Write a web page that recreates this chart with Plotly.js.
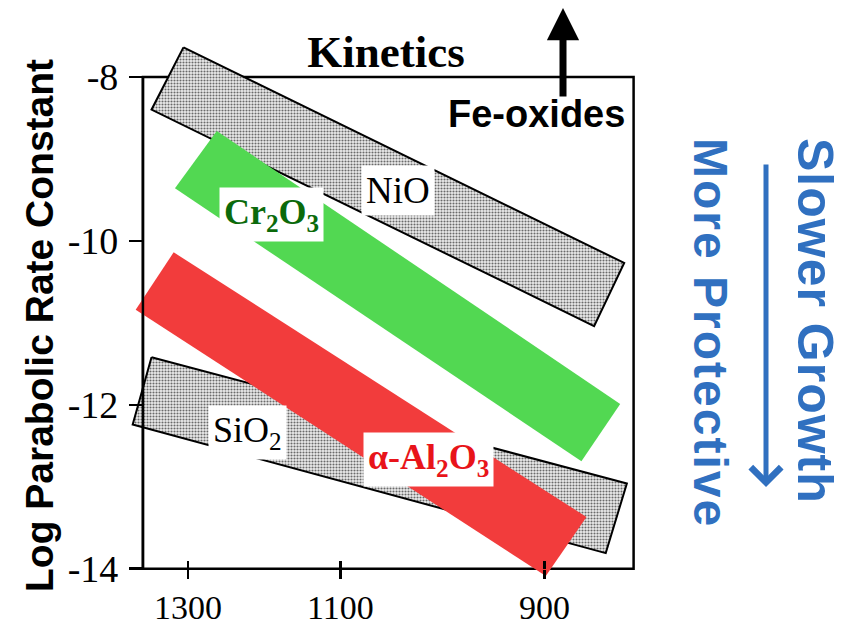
<!DOCTYPE html>
<html><head><meta charset="utf-8">
<script src="https://cdn.plot.ly/plotly-3.0.1.min.js"></script>
<style>
html,body{margin:0;padding:0;background:#fff}
text.annotation-text[data-unformatted*="More Protective"]{letter-spacing:2px}
text.annotation-text[data-unformatted*="Slower Growth"]{letter-spacing:1px}
</style>
</head><body><div id="chart" style="width:851px;height:628px"></div>
<script>
// ---- data ----
const tempTicks = [1300, 1100, 900];               // temperature, °C (axis is 1/T)
const logkTicks = [-8, -10, -12, -14];
const logkTickText = ['-8', '-10', '-12', '-14'];

// band corners: temperature (°C) and log parabolic rate constant
const nioT = [1307, 837, 860, 1357];
const nioLogk = [-7.64, -10.27, -11.04, -8.40];
const cr2o3T = [1258, 840, 870, 1320];
const cr2o3Logk = [-8.66, -11.99, -12.69, -9.36];
const al2o3T = [1322, 866, 899, 1383];
const al2o3Logk = [-10.14, -13.37, -14.09, -10.84];
const sio2T = [1357, 835, 851, 1388];
const sio2Logk = [-11.42, -12.96, -13.81, -12.24];

// label anchors (°C, log k)
const labelNames = ['NiO', '<b>Cr<sub>2</sub>O<sub>3</sub></b>', 'SiO<sub>2</sub>', '<b>α-Al<sub>2</sub>O<sub>3</sub></b>'];
const labelT = [1037, 1184, 1215, 1006];
const labelLogk = [-9.39, -9.68, -12.34, -12.67];

// ---- helpers ----
const inv = T => 1e4 / (T + 273.15);
function band(T, k, style) {
  const x = T.map(inv); x.push(x[0]);
  const y = k.slice(); y.push(k[0]);
  return Object.assign({type: 'scatter', mode: 'lines', x: x, y: y, fill: 'toself',
    hoverinfo: 'skip', showlegend: false}, style);
}
const grayStyle = {line: {color: '#000', width: 2}, fillcolor: '#d2d2d2',
  fillpattern: {shape: '.', bgcolor: '#ececec', fgcolor: '#6a6a6a', size: 3, solidity: 0.38}};

const traces = [
  band(nioT, nioLogk, grayStyle),
  band(sio2T, sio2Logk, grayStyle),
  band(cr2o3T, cr2o3Logk, {line: {width: 0, color: 'rgba(0,0,0,0)'}, fillcolor: '#52d852'}),
  band(al2o3T, al2o3Logk, {line: {width: 0, color: 'rgba(0,0,0,0)'}, fillcolor: '#f23c3c'}),
  {type: 'scatter', x: [], y: [], xaxis: 'x2', yaxis: 'y', showlegend: false, hoverinfo: 'skip'}
];

// ---- layout ----
const L = 125, R = 650, TOP = 40, B = 590;
const xRange = [inv(1401), inv(818)];
const yRange = [-14.26, -7.55];
const frameT = [1371, 830];
const px = p => (p - L) / (R - L);
const py = p => (B - p) / (B - TOP);
const xPos = (-14 - yRange[0]) / (yRange[1] - yRange[0]);
const yPos = (inv(frameT[0]) - xRange[0]) / (xRange[1] - xRange[0]);

const serif = 'Liberation Serif, Times New Roman, serif';
const sans = 'Liberation Sans, Arial, sans-serif';
const blue = '#3070c0';

const labelColors = ['#000', '#0b6a0b', '#000', '#e8141a'];
const labelSizes = [37, 36, 36, 36];
const labelAnns = labelNames.map((t, i) => ({
  text: t, x: inv(labelT[i]), y: labelLogk[i], xref: 'x', yref: 'y', showarrow: false,
  xanchor: 'center', yanchor: 'middle',
  font: {family: serif, size: labelSizes[i], color: labelColors[i]}, bgcolor: '#fff', borderpad: 4
}));

const layout = {
  width: 851, height: 628,
  margin: {l: L, r: 851 - R, t: TOP, b: 628 - B},
  paper_bgcolor: '#fff', plot_bgcolor: 'rgba(0,0,0,0)',
  showlegend: false,
  title: {text: '<b>Kinetics</b>', font: {family: serif, size: 45, color: '#000'},
    xref: 'paper', x: px(386), xanchor: 'center', yref: 'container', y: 1 - 51 / 628, yanchor: 'middle'},
  xaxis: {range: xRange, showgrid: false, zeroline: false, showline: false,
    tickmode: 'array', tickvals: tempTicks.map(inv), ticktext: tempTicks.map(String),
    ticks: 'outside', ticklen: 9, tickwidth: 2.5, tickcolor: '#000',
    tickfont: {family: serif, size: 34, color: '#000'}, anchor: 'free', position: xPos,
    ticklabelstandoff: 0},
  xaxis2: {range: xRange, overlaying: 'x', anchor: 'free', position: xPos,
    showgrid: false, zeroline: false, showline: false, showticklabels: false,
    tickmode: 'array', tickvals: tempTicks.map(inv),
    ticks: 'inside', ticklen: 8, tickwidth: 2.5, tickcolor: '#000'},
  yaxis: {range: yRange, showgrid: false, zeroline: false, showline: false,
    tickmode: 'array', tickvals: logkTicks, ticktext: logkTickText,
    ticks: 'outside', ticklen: 14, tickwidth: 2.5, tickcolor: '#000',
    tickfont: {family: serif, size: 38, color: '#000'}, anchor: 'free', position: yPos,
    ticklabelstandoff: 3},
  shapes: [
    {type: 'rect', xref: 'x', yref: 'y', x0: inv(frameT[0]), x1: inv(frameT[1]), y0: -14, y1: -8,
      line: {color: '#000', width: 2.5}, layer: 'below'},
    {type: 'line', xref: 'x', yref: 'y', x0: inv(frameT[0]), x1: inv(frameT[0]), y0: -14, y1: -8,
      line: {color: '#000', width: 2.5}, layer: 'above'}
  ],
  annotations: labelAnns.concat([
    {text: '<b>Log Parabolic Rate Constant</b>', xref: 'paper', yref: 'paper',
      x: px(39), y: py(326), xanchor: 'center', yanchor: 'middle', textangle: -90, showarrow: false,
      font: {family: sans, size: 39, color: '#000'}},
    {text: '<b>Fe-oxides</b>', xref: 'paper', yref: 'paper', x: px(536), y: py(114),
      xanchor: 'center', yanchor: 'middle',
      showarrow: false, font: {family: sans, size: 38, color: '#000'}},
    {text: '', xref: 'paper', yref: 'paper', x: px(563), y: py(8), ax: 0, ay: 90,
      showarrow: true, arrowhead: 2, arrowwidth: 7, arrowsize: 0.92, arrowcolor: '#000'},
    {text: '<b>Slower Growth</b>', xref: 'paper', yref: 'paper', x: px(815), y: py(321),
      xanchor: 'center', yanchor: 'middle',
      textangle: 90, showarrow: false, font: {family: sans, size: 50, color: blue}},
    {text: '<b>More Protective</b>', xref: 'paper', yref: 'paper', x: px(711), y: py(333),
      xanchor: 'center', yanchor: 'middle',
      textangle: 90, showarrow: false, font: {family: sans, size: 48, color: blue}},
    {text: '', xref: 'paper', yref: 'paper', x: px(766), y: py(487), ax: 0, ay: -324,
      showarrow: true, arrowhead: 4, arrowwidth: 5, arrowsize: 1.17, arrowcolor: blue}
  ])
};

Plotly.newPlot('chart', traces, layout, {displayModeBar: false, staticPlot: true});
</script></body></html>
